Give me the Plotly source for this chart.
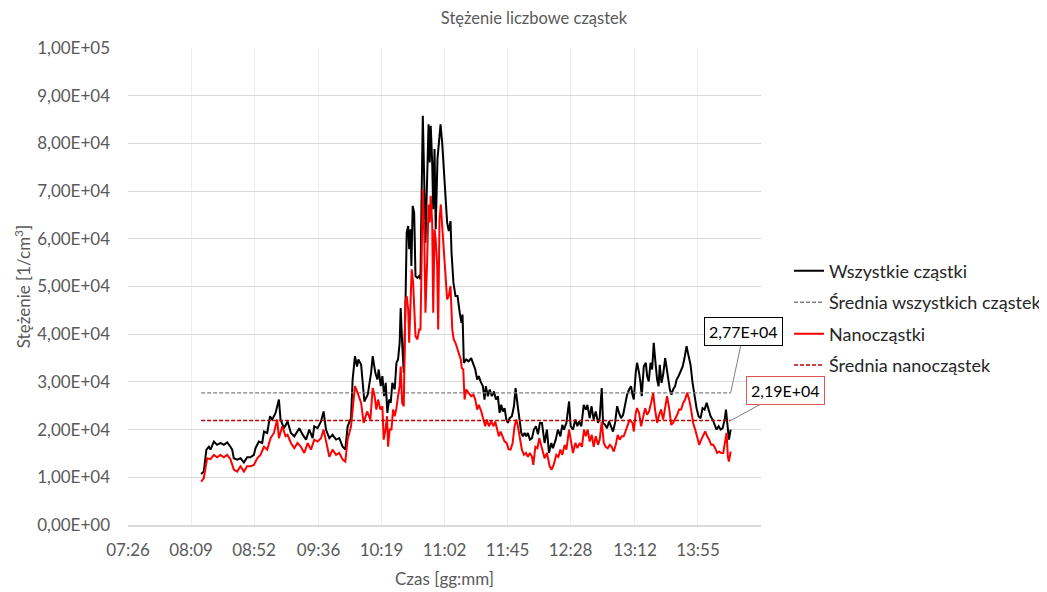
import plotly.graph_objects as go

# ---------------- data ----------------
# time in minutes since midnight, concentration in thousands of 1/cm3
t_all = [
    496.3, 498.1, 499.9, 501.6, 502.7, 505.0, 507.2, 509.5, 511.8, 514.1,
    516.3, 517.5, 518.6, 520.9, 523.2, 525.5, 527.7, 530.0, 532.3, 533.4,
    535.7, 538.0, 539.2, 541.4, 543.3, 544.8, 547.1, 549.4, 550.5, 552.8,
    555.3, 557.6, 559.9, 562.1, 563.3, 565.5, 567.9, 570.1, 572.4, 573.5,
    575.8, 578.1, 579.9, 581.5, 583.8, 586.0, 588.4, 590.6, 592.9, 594.7,
    596.3, 598.6, 599.7, 601.3, 602.7, 603.6, 605.5, 607.7, 610.0, 612.3,
    613.4, 615.2, 616.6, 617.5, 618.9, 620.0, 621.2, 622.3, 623.4, 624.6,
    625.7, 626.8, 628.4, 629.6, 630.7, 631.8, 632.5, 633.5, 634.6, 635.7,
    636.6, 637.6, 638.3, 639.2, 639.8, 640.7, 641.7, 642.6, 643.9, 645.1,
    646.0, 646.7, 647.6, 648.5, 649.4, 650.6, 651.5, 652.3, 653.0, 654.0,
    654.7, 655.6, 656.4, 657.6, 658.8, 659.7, 660.8, 661.9, 663.1, 664.2,
    665.3, 666.5, 667.2, 668.5, 669.9, 671.3, 672.8, 674.0, 674.7, 675.6,
    677.2, 678.8, 680.6, 682.2, 683.4, 684.7, 685.8, 687.0, 688.6, 689.7,
    690.6, 692.0, 693.3, 694.7, 696.1, 697.5, 698.8, 700.0, 701.1, 702.2,
    703.4, 704.6, 705.7, 706.8, 708.4, 709.8, 710.9, 712.1, 713.4, 714.8,
    715.9, 717.1, 718.2, 719.3, 720.7, 722.1, 723.4, 724.8, 726.2, 727.5,
    728.9, 730.7, 732.3, 733.7, 735.3, 736.4, 738.3, 739.8, 741.5, 742.8,
    743.9, 745.6, 747.4, 748.5, 750.1, 751.7, 753.1, 754.2, 755.8, 757.4,
    758.8, 759.9, 761.5, 762.7, 764.2, 765.6, 767.2, 768.3, 769.7, 770.6,
    772.0, 773.3, 774.7, 776.1, 777.4, 778.8, 780.2, 781.5, 782.9, 784.3,
    785.6, 787.0, 788.4, 789.7, 790.7, 791.6, 792.9, 793.8, 795.2, 796.2,
    797.0, 798.4, 799.8, 800.7, 801.8, 803.0, 804.1, 805.2, 806.4, 807.5,
    808.5, 809.3, 810.5, 811.6, 813.0, 813.9, 815.0, 816.2, 817.3, 818.4,
    819.8, 820.8, 822.1, 823.5, 824.9, 826.2, 827.6, 829.0, 830.3, 831.7,
    833.1, 834.4, 835.8, 837.2, 838.5, 839.9, 841.3, 842.6, 844.0, 845.4,
    846.7, 848.1, 849.5, 850.8, 852.2, 853.6, 854.5, 855.3, 856.5, 857.7,
]
v_all_k = [
    10.7, 11.2, 15.8, 16.4, 15.8, 17.5, 16.8, 17.2, 16.8, 17.3,
    16.4, 15.8, 14.0, 13.7, 14.0, 13.1, 14.2, 14.2, 14.7, 16.1,
    17.5, 17.2, 19.6, 19.3, 22.8, 22.1, 23.5, 26.3, 22.1, 20.3,
    21.7, 19.3, 18.6, 19.6, 20.3, 19.0, 17.9, 20.0, 18.2, 20.7,
    20.3, 21.7, 23.8, 20.0, 18.2, 18.9, 17.9, 18.2, 16.4, 15.8,
    20.7, 22.4, 30.5, 35.4, 33.2, 34.7, 33.6, 25.9, 27.3, 31.9,
    35.4, 31.9, 30.5, 32.6, 29.1, 31.2, 27.0, 29.8, 23.5, 26.3,
    25.6, 29.8, 28.4, 34.0, 34.7, 38.2, 45.5, 38.2, 31.9, 45.2,
    61.3, 62.7, 57.8, 62.0, 54.3, 66.9, 65.5, 52.2, 51.8, 52.2,
    51.5, 67.6, 85.8, 73.2, 59.2, 73.2, 84.0, 76.0, 83.7, 76.0,
    66.2, 78.8, 62.0, 76.7, 81.6, 84.0, 80.2, 75.3, 69.0, 63.4,
    61.6, 63.7, 57.1, 50.8, 48.0, 48.0, 44.5, 42.4, 44.1, 34.0,
    34.7, 34.3, 35.0, 33.6, 32.6, 30.5, 31.2, 30.1, 29.1, 26.3,
    29.1, 27.0, 28.4, 27.0, 28.0, 26.3, 27.0, 23.5, 25.2, 23.8,
    24.5, 22.1, 21.4, 22.4, 22.8, 24.9, 28.7, 25.6, 22.1, 19.3,
    18.6, 19.3, 18.6, 19.3, 17.9, 18.2, 20.0, 20.7, 19.0, 21.4,
    21.4, 17.2, 20.0, 15.1, 17.2, 16.1, 17.9, 20.0, 18.6, 21.0,
    20.0, 21.4, 25.9, 20.7, 20.0, 22.1, 20.7, 21.7, 20.7, 25.2,
    24.2, 25.2, 22.4, 24.9, 22.1, 23.8, 21.4, 22.4, 28.7, 21.4,
    21.0, 20.3, 21.7, 20.7, 19.6, 21.4, 24.9, 23.5, 22.4, 23.1,
    25.6, 27.3, 28.4, 29.1, 27.3, 26.3, 31.9, 34.0, 31.9, 29.8,
    27.0, 33.2, 34.0, 31.2, 30.1, 34.0, 32.6, 38.2, 34.0, 30.5,
    29.1, 33.6, 29.8, 31.5, 35.0, 33.2, 30.5, 28.4, 27.3, 28.4,
    29.1, 30.5, 31.2, 32.2, 33.2, 35.0, 37.5, 35.4, 33.6, 29.8,
    27.0, 24.5, 22.8, 22.4, 24.5, 24.2, 25.6, 24.2, 22.8, 22.1,
    21.0, 20.0, 20.7, 20.0, 20.3, 22.1, 24.2, 21.0, 17.9, 20.0,
]

t_nano = [
    496.3, 498.1, 500.4, 502.7, 505.0, 507.2, 509.5, 511.8, 514.1, 516.3,
    518.6, 520.9, 523.2, 525.5, 527.7, 530.0, 532.3, 534.6, 536.8, 539.2,
    541.4, 543.7, 546.0, 548.2, 549.4, 551.7, 553.9, 555.3, 557.6, 559.9,
    562.1, 564.4, 566.7, 569.0, 571.3, 573.5, 575.8, 578.1, 579.9, 581.5,
    583.8, 586.0, 588.4, 590.6, 592.9, 594.7, 596.3, 598.6, 599.7, 601.3,
    603.1, 605.5, 607.2, 609.6, 611.8, 613.4, 614.7, 615.9, 617.1, 618.6,
    620.0, 620.9, 622.1, 623.2, 623.9, 625.0, 626.2, 627.3, 628.4, 629.6,
    630.7, 631.8, 632.5, 633.5, 634.6, 635.7, 636.6, 637.6, 638.3, 639.2,
    640.0, 641.0, 641.7, 642.6, 643.9, 645.1, 646.0, 646.7, 647.6, 648.5,
    649.4, 650.6, 651.5, 652.3, 653.0, 654.0, 654.7, 655.6, 656.4, 657.4,
    658.1, 659.0, 659.9, 660.8, 661.9, 663.1, 664.2, 665.3, 666.5, 667.7,
    668.7, 669.9, 671.3, 672.4, 673.5, 674.2, 675.2, 676.1, 677.2, 678.8,
    680.6, 682.2, 683.4, 684.7, 685.8, 687.5, 688.6, 690.2, 691.3, 692.7,
    694.3, 695.9, 697.0, 698.4, 699.5, 700.7, 702.2, 703.4, 704.8, 706.1,
    707.5, 708.9, 710.2, 711.4, 712.5, 713.9, 715.2, 716.6, 718.0, 719.3,
    720.7, 722.1, 723.0, 724.4, 725.8, 727.1, 728.5, 730.7, 732.3, 734.2,
    735.5, 736.9, 738.7, 740.1, 741.5, 742.8, 744.4, 745.6, 747.4, 748.7,
    750.1, 751.7, 753.1, 754.7, 756.2, 757.6, 758.8, 760.1, 761.5, 762.9,
    764.2, 765.6, 767.2, 768.3, 769.7, 771.1, 772.4, 773.8, 775.2, 776.5,
    777.9, 779.3, 780.6, 782.0, 783.4, 784.7, 786.1, 787.5, 788.8, 790.7,
    791.6, 792.9, 793.8, 795.2, 796.6, 797.9, 799.3, 800.7, 802.0, 803.4,
    804.8, 806.1, 807.5, 808.9, 810.2, 811.6, 813.0, 814.3, 815.7, 817.1,
    818.4, 819.8, 821.2, 822.5, 823.9, 825.3, 826.6, 828.0, 829.4, 830.7,
    832.1, 833.5, 834.8, 836.2, 837.6, 838.9, 840.3, 841.7, 843.0, 844.4,
    845.8, 847.1, 848.5, 849.9, 851.2, 852.6, 854.0, 854.9, 855.8, 856.5,
    857.7,
]
v_nano_k = [
    9.1, 9.8, 14.0, 13.8, 14.7, 14.2, 14.7, 14.2, 14.7, 13.8,
    11.6, 11.2, 12.3, 11.2, 12.3, 12.3, 12.6, 14.0, 14.7, 16.4,
    15.8, 18.2, 19.3, 22.1, 18.2, 20.7, 18.6, 18.9, 17.2, 16.1,
    17.2, 16.4, 15.1, 17.2, 15.8, 17.9, 17.5, 18.2, 20.0, 17.5,
    14.3, 15.8, 14.7, 15.1, 13.7, 13.3, 17.9, 20.7, 24.9, 29.1,
    27.7, 25.6, 21.4, 23.8, 22.1, 28.7, 27.0, 24.2, 26.3, 24.2,
    24.9, 17.9, 20.0, 22.8, 16.4, 20.0, 20.0, 24.2, 22.8, 24.5,
    27.0, 29.1, 33.2, 25.6, 24.9, 46.6, 48.0, 45.2, 38.2, 45.2,
    53.6, 50.8, 45.2, 39.6, 38.9, 41.0, 41.0, 55.7, 70.4, 62.7,
    44.5, 55.7, 67.2, 63.4, 69.0, 63.4, 44.5, 62.0, 59.9, 54.3,
    41.0, 64.1, 67.2, 62.7, 57.1, 52.2, 47.3, 48.0, 50.1, 41.0,
    38.9, 38.2, 36.8, 35.7, 34.7, 32.9, 32.6, 26.3, 28.4, 27.7,
    27.0, 27.3, 26.3, 24.2, 25.2, 23.8, 22.4, 20.7, 22.1, 20.7,
    21.7, 20.7, 21.7, 20.0, 18.6, 19.6, 18.2, 17.5, 17.2, 15.9,
    15.8, 17.2, 20.7, 22.1, 20.7, 17.9, 15.8, 14.7, 15.1, 14.3,
    15.1, 14.3, 12.6, 16.4, 16.1, 18.2, 16.4, 14.0, 15.1, 12.3,
    11.6, 12.6, 14.7, 14.3, 15.8, 14.7, 16.8, 15.8, 20.0, 17.2,
    15.1, 17.2, 16.1, 17.2, 16.4, 20.0, 18.6, 20.0, 17.5, 18.9,
    16.4, 18.6, 16.8, 17.9, 21.7, 17.2, 16.4, 16.1, 16.8, 16.4,
    15.4, 16.8, 18.9, 17.9, 18.6, 18.6, 20.0, 21.0, 22.1, 21.4,
    19.6, 23.5, 24.5, 23.5, 20.7, 22.8, 24.5, 23.1, 23.8, 25.6,
    27.7, 24.2, 21.4, 23.1, 24.2, 22.1, 25.2, 27.0, 24.5, 21.0,
    21.4, 22.1, 23.1, 24.2, 24.2, 25.6, 26.3, 27.7, 26.3, 24.2,
    21.4, 20.0, 18.2, 16.8, 17.9, 18.9, 19.6, 18.6, 17.9, 16.8,
    16.8, 16.1, 15.1, 15.4, 15.1, 15.1, 17.9, 19.3, 14.3, 13.3,
    15.4,
]

mean_all = 27700
mean_nano = 21900
mean_all_label = "2,77E+04"
mean_nano_label = "2,19E+04"

x_tick_labels = ["07:26", "08:09", "08:52", "09:36", "10:19",
                 "11:02", "11:45", "12:28", "13:12", "13:55"]
y_tick_values = [0, 10000, 20000, 30000, 40000, 50000, 60000, 70000, 80000, 90000, 100000]
y_tick_labels = ["0,00E+00", "1,00E+04", "2,00E+04", "3,00E+04", "4,00E+04", "5,00E+04",
                 "6,00E+04", "7,00E+04", "8,00E+04", "9,00E+04", "1,00E+05"]

# ---------------- figure ----------------
FONT = "Lato"
GREY = "#595959"
v_all = [v * 1000 for v in v_all_k]
v_nano = [v * 1000 for v in v_nano_k]
x_tick_vals = [int(s[:2]) * 60 + int(s[3:]) + 0.4 for s in x_tick_labels]
t_span = [t_all[0], t_all[-1]]

fig = go.Figure()
fig.add_trace(go.Scatter(x=t_all, y=v_all, mode="lines", name="Wszystkie cząstki",
                         legendgroup="a", line=dict(color="#000000", width=2)))
fig.add_trace(go.Scatter(x=t_span, y=[mean_all, mean_all], mode="lines",
                         name="Średnia wszystkich cząstek", legendgroup="b",
                         line=dict(color="#808080", width=1.3, dash="4px,2px")))
fig.add_trace(go.Scatter(x=t_nano, y=v_nano, mode="lines", name="Nanocząstki",
                         legendgroup="c", line=dict(color="#FF0000", width=2)))
fig.add_trace(go.Scatter(x=t_span, y=[mean_nano, mean_nano], mode="lines",
                         name="Średnia nanocząstek", legendgroup="d",
                         line=dict(color="#C00000", width=1.6, dash="4px,2px")))

fig.add_annotation(x=t_span[-1], y=mean_all, xref="x", yref="y",
                   text=mean_all_label, showarrow=True, arrowhead=0, arrowwidth=1,
                   arrowcolor="#808080", ax=13, ay=-61, standoff=0,
                   font=dict(family=FONT, size=16, color="#000000"),
                   bordercolor="#000000", borderwidth=1, borderpad=4, bgcolor="#ffffff")
fig.add_annotation(x=t_span[-1], y=mean_nano, xref="x", yref="y",
                   text=mean_nano_label, showarrow=True, arrowhead=0, arrowwidth=1,
                   arrowcolor="#808080", ax=55, ay=-30, standoff=0,
                   font=dict(family=FONT, size=16, color="#000000"),
                   bordercolor="#E05555", borderwidth=1, borderpad=4, bgcolor="#ffffff")

fig.update_layout(
    width=1047, height=592,
    margin=dict(l=120, r=294, t=40, b=75, autoexpand=False),
    paper_bgcolor="#ffffff", plot_bgcolor="#ffffff",
    font=dict(family=FONT, size=17, color=GREY),
    title=dict(text="Stężenie liczbowe cząstek", x=526 / 1047, xanchor="center",
               y=1 - 10 / 592, yanchor="middle",
               font=dict(family=FONT, size=16.5, color=GREY)),
    showlegend=True,
    legend=dict(x=1.0443, xanchor="left", y=0.571, yanchor="top",
                traceorder="grouped", tracegroupgap=5,
                font=dict(family=FONT, size=18, color="#262626"),
                bgcolor="rgba(0,0,0,0)", itemwidth=30),
    xaxis=dict(range=[446.4, 878.4], tickmode="array", tickvals=x_tick_vals,
               ticktext=x_tick_labels, showgrid=True, gridcolor="#ededed", gridwidth=1,
               zeroline=False, showline=True, linecolor="#d9d9d9", linewidth=1.5,
               ticks="", ticklabelstandoff=9,
               tickfont=dict(family=FONT, size=17, color=GREY),
               title=dict(text="Czas [gg:mm]", standoff=14,
                          font=dict(family=FONT, size=17, color=GREY))),
    yaxis=dict(range=[0, 100000], tickmode="array", tickvals=y_tick_values,
               ticktext=y_tick_labels, showgrid=True, gridcolor="#d9d9d9", gridwidth=1,
               zeroline=False, showline=False, ticks="", ticklabelstandoff=17,
               tickfont=dict(family=FONT, size=17, color=GREY),
               title=dict(text="Stężenie [1/cm<sup>3</sup>]", standoff=2,
                          font=dict(family=FONT, size=17, color=GREY))),
)

fig.write_html("out.html")
